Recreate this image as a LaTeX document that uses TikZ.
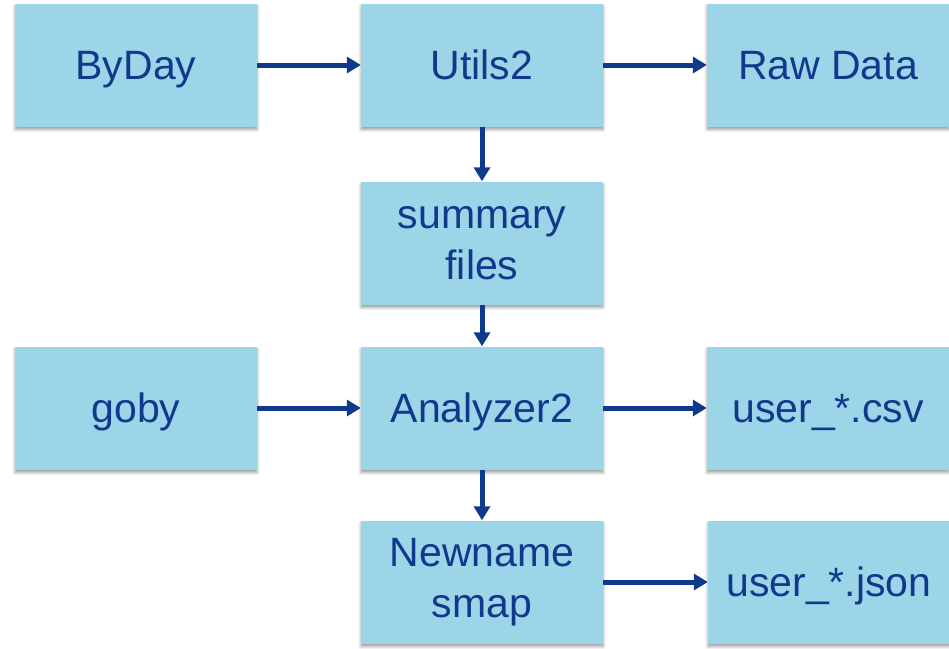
\documentclass[tikz,border=0pt]{standalone}
\usepackage{fontspec}
\setmainfont{Liberation Sans}
\usetikzlibrary{arrows.meta,shadows.blur}
\definecolor{boxfill}{HTML}{9CD5E8}
\definecolor{txtblue}{HTML}{0F3A8C}
\begin{document}
\begin{tikzpicture}[x=1pt,y=-1pt,
  box/.style={fill=boxfill, draw=none, minimum width=242pt, minimum height=123pt,
    inner sep=0pt, text=txtblue, align=center,
    font=\fontsize{41}{51}\selectfont,
    blur shadow={shadow xshift=0pt, shadow yshift=-3pt, shadow blur radius=3pt, shadow opacity=40}},
  oneline/.style={text depth=0pt},
  conn/.style={draw=txtblue, line width=5pt, -{Triangle[length=14pt,width=16pt]}}]
\useasboundingbox (0,0) rectangle (949,648);
\node[box,oneline] (byday) at (136,65) {ByDay};
\node[box,oneline] (utils) at (482,65) {Utils2};
\node[box,oneline] (raw) at (828,65) {Raw Data};
\node[box] (summ) at (482,243) {summary\\files};
\node[box,oneline] (goby) at (136,408) {goby};
\node[box,oneline] (ana) at (482,408) {Analyzer2};
\node[box,oneline] (csv) at (828,408) {user\_*.csv};
\node[box] (newn) at (482,582) {Newname\\smap};
\node[box,oneline] (json) at (829,582) {user\_*.json};
\draw[conn] (byday) -- (utils);
\draw[conn] (utils) -- (raw);
\draw[conn] (utils) -- (summ);
\draw[conn] (summ) -- (ana);
\draw[conn] (goby) -- (ana);
\draw[conn] (ana) -- (csv);
\draw[conn] (ana) -- (newn);
\draw[conn] (newn) -- (json);
\end{tikzpicture}
\end{document}
